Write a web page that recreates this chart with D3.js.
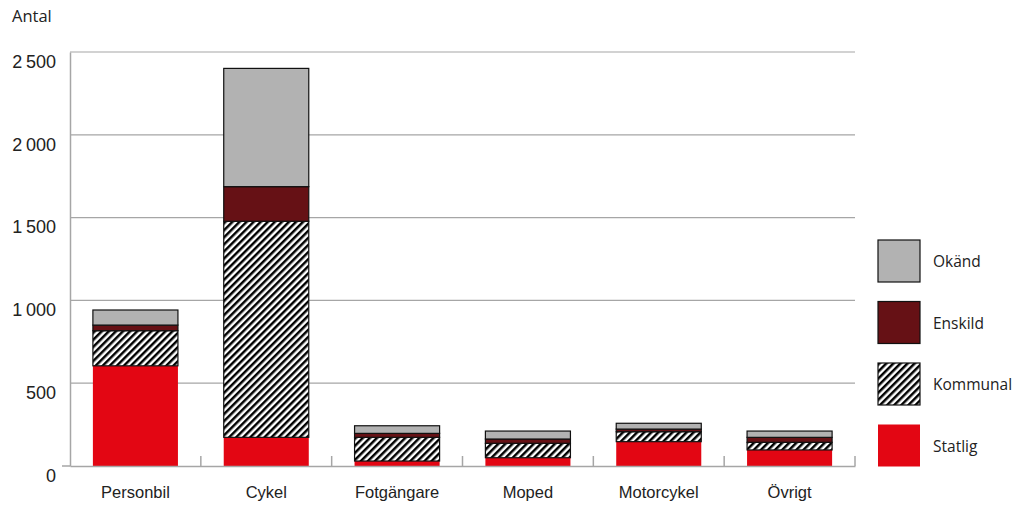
<!DOCTYPE html>
<html><head><meta charset="utf-8">
<script src="https://cdn.jsdelivr.net/npm/d3@7"></script>
<style>body{margin:0;background:#fff}svg{font-family:"Open Sans",sans-serif}</style>
</head><body><svg id="c" width="1022" height="508"></svg>
<script>
const categories = ["Personbil","Cykel","Fotgängare","Moped","Motorcykel","Övrigt"];
const statlig   = [605, 173, 30, 50, 147, 97];
const kommunal  = [212, 1305, 143, 87, 60, 46];
const enskild   = [34, 209, 24, 26, 16, 30];
const okand     = [91, 714, 46, 48, 35, 38];
const seriesNames = ["Statlig","Kommunal","Enskild","Okänd"];
const yTicks = [0, 500, 1000, 1500, 2000, 2500];
const yTickLabels = ["0","500","1\u202F000","1\u202F500","2\u202F000","2\u202F500"];

const svg = d3.select("#c");
const defs = svg.append("defs");
const pat = defs.append("pattern").attr("id","hatch").attr("patternUnits","userSpaceOnUse")
  .attr("width",5).attr("height",5).attr("patternTransform","rotate(45)");
pat.append("rect").attr("width",5).attr("height",5).attr("fill","#fff");
pat.append("rect").attr("x",0).attr("width",2.5).attr("height",5).attr("fill","#000");

const fills = {"Statlig":"#e30613","Kommunal":"url(#hatch)","Enskild":"#661115","Okänd":"#b2b2b2"};
const strokes = {"Statlig":"none","Kommunal":"#111","Enskild":"#111","Okänd":"#111"};

const x = d3.scaleBand().domain(categories).range([70,855]).paddingInner(0.35).paddingOuter(0.175);
const y = d3.scaleLinear().domain([0,2500]).range([466,52]);

const data = categories.map((c,i)=>({cat:c,"Statlig":statlig[i],"Kommunal":kommunal[i],"Enskild":enskild[i],"Okänd":okand[i]}));
const stacked = d3.stack().keys(seriesNames)(data);

// gridlines
svg.append("g").selectAll("line").data(yTicks.slice(1)).join("line")
  .attr("x1",70).attr("x2",855).attr("y1",d=>y(d)).attr("y2",d=>y(d))
  .attr("stroke","#a6a6a6").attr("stroke-width",1.2);

// y axis
const ya = svg.append("g").attr("transform","translate(70,0)")
  .call(d3.axisLeft(y).tickValues(yTicks).tickFormat((d,i)=>yTickLabels[i]).tickSize(0).tickPadding(14));
ya.select(".domain").attr("stroke","#a6a6a6").attr("stroke-width",1.5);
ya.selectAll("text").attr("font-size",18).attr("fill","#222").attr("dy","0.85em");
svg.append("line").attr("x1",62).attr("x2",70).attr("y1",y(0)).attr("y2",y(0)).attr("stroke","#a6a6a6").attr("stroke-width",1.5);

// bars
svg.append("g").selectAll("g").data(stacked).join("g")
  .each(function(s){
    d3.select(this).selectAll("rect").data(s).join("rect")
      .attr("x",d=>x(d.data.cat)).attr("width",x.bandwidth())
      .attr("y",d=>y(d[1])).attr("height",d=>y(d[0])-y(d[1]))
      .attr("fill",fills[s.key]).attr("stroke",strokes[s.key]).attr("stroke-width",1.2);
  });

// x axis
const xa = svg.append("g").attr("transform",`translate(0,${y(0)})`)
  .call(d3.axisBottom(x).tickSize(0).tickPadding(20));
xa.select(".domain").attr("stroke","#a6a6a6").attr("stroke-width",1.5);
xa.selectAll("text").attr("font-size",16.5).attr("fill","#222");
const step = x.step();
svg.append("g").selectAll("line").data(d3.range(1,7)).join("line")
  .attr("x1",d=>70+step*d).attr("x2",d=>70+step*d).attr("y1",y(0)).attr("y2",y(0)-10)
  .attr("stroke","#a6a6a6").attr("stroke-width",1.5);

svg.append("text").attr("x",12).attr("y",22).attr("font-size",16.5).attr("fill","#222").text("Antal");

// legend
const legOrder = ["Okänd","Enskild","Kommunal","Statlig"];
const lg = svg.append("g").selectAll("g").data(legOrder).join("g")
  .attr("transform",(d,i)=>`translate(878,${240+i*61.5})`);
lg.append("rect").attr("width",42).attr("height",42).attr("fill",d=>fills[d]).attr("stroke",d=>strokes[d]).attr("stroke-width",1.2);
lg.append("text").attr("x",55).attr("y",22).attr("dy","0.35em").attr("font-size",15.5).attr("fill","#222").text(d=>d);
</script></body></html>
